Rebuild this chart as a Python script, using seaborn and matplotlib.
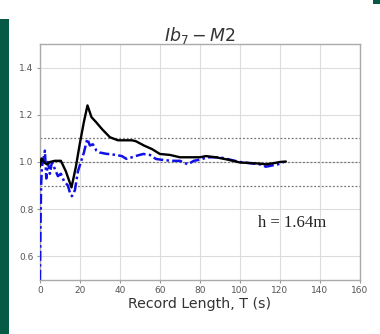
import matplotlib
matplotlib.use("Agg")
import matplotlib.pyplot as plt
import seaborn as sns
from matplotlib.patches import Rectangle

# Record length (s) and normalized value
t_black = [0, 0.8, 2, 3.5, 5, 7.5, 10.5, 13, 15.8, 18, 20, 22, 23.8, 25.8, 28, 31, 35, 39,
           42, 46, 48, 52, 56, 60, 65, 70, 75, 80, 83, 88, 94, 100, 106, 110, 113, 117, 120, 123]
v_black = [0.98, 1.015, 1.0, 0.99, 1.0, 1.005, 1.005, 0.96, 0.892, 0.98, 1.08, 1.17, 1.24, 1.19,
           1.17, 1.14, 1.105, 1.092, 1.092, 1.092, 1.088, 1.07, 1.055, 1.034, 1.03, 1.02, 1.02,
           1.02, 1.025, 1.02, 1.01, 0.998, 0.995, 0.993, 0.99, 0.995, 1.0, 1.002]

t_blue = [0, 0.3, 0.6, 1.0, 1.5, 2.5, 3.2, 4.0, 5.0, 6.0, 7.0, 8.0, 9.0, 10.5, 12, 14, 15, 16,
          17.5, 19, 20.5, 22, 23.7, 25, 26.5, 28.3, 30, 33, 38, 41, 43.3, 46, 49, 51.7, 55, 58,
          62, 66, 70, 74, 77, 80, 84, 90, 95, 100, 105, 110, 113, 116, 119, 122]
v_blue = [0.5, 0.72, 0.9, 0.98, 1.0, 1.048, 0.93, 1.0, 0.95, 1.0, 0.98, 0.96, 0.94, 0.95, 0.92,
          0.9, 0.87, 0.855, 0.88, 0.96, 1.0, 1.04, 1.098, 1.07, 1.075, 1.048, 1.04, 1.035, 1.03,
          1.025, 1.013, 1.02, 1.028, 1.034, 1.03, 1.013, 1.008, 1.005, 1.005, 0.99, 1.005, 1.01,
          1.02, 1.02, 1.01, 1.0, 0.995, 0.99, 0.98, 0.985, 0.99, 1.0]

ref_levels = [0.9, 1.0, 1.1]
x_ticks = [0, 20, 40, 60, 80, 100, 120, 140, 160]
y_ticks = [0.6, 0.8, 1.0, 1.2, 1.4]

sns.set_style("whitegrid", {"grid.color": "#dcdcdc", "axes.edgecolor": "#aaaaaa"})

fig = plt.figure(figsize=(3.8, 3.34), dpi=100)
ax = fig.add_axes([0.105, 0.162, 0.842, 0.706])

# decorative slide elements
fig.patches.append(Rectangle((0, 0), 9 / 380, 1 - 19 / 334, transform=fig.transFigure,
                             facecolor="#065a45", edgecolor="none"))
fig.patches.append(Rectangle((373 / 380, 1 - 4 / 334), 7 / 380, 4 / 334, transform=fig.transFigure,
                             facecolor="#065a45", edgecolor="none"))

for lv in ref_levels:
    ax.axhline(lv, color="#777777", linestyle=(0, (1.5, 1.5)), linewidth=0.9, zorder=1)

sns.lineplot(x=t_blue, y=v_blue, ax=ax, color="#1010e8", linestyle=(0, (4, 1.3, 1, 1.3)),
             linewidth=1.8, sort=False, zorder=3)
sns.lineplot(x=t_black, y=v_black, ax=ax, color="black", linewidth=1.7, sort=False, zorder=4)

ax.set_xlim(0, 160)
ax.set_ylim(0.5, 1.5)
ax.set_xticks(x_ticks)
ax.set_yticks(y_ticks)
ax.tick_params(axis="both", labelsize=6.5, labelcolor="#555555", length=2.5, color="#999999",
               bottom=True, left=True, pad=2)
ax.set_xlabel("Record Length, T (s)", fontsize=10.2, color="#333333", labelpad=1)
ax.set_ylabel("")
ax.set_title(r"$Ib_7 - M2$", fontsize=12.5, color="#333333", pad=2)
for sp in ax.spines.values():
    sp.set_linewidth(1.0)

ax.text(109, 0.725, "h = 1.64m", family="Liberation Serif", fontsize=12, color="#222222")

fig.savefig("out.png", dpi=100)
